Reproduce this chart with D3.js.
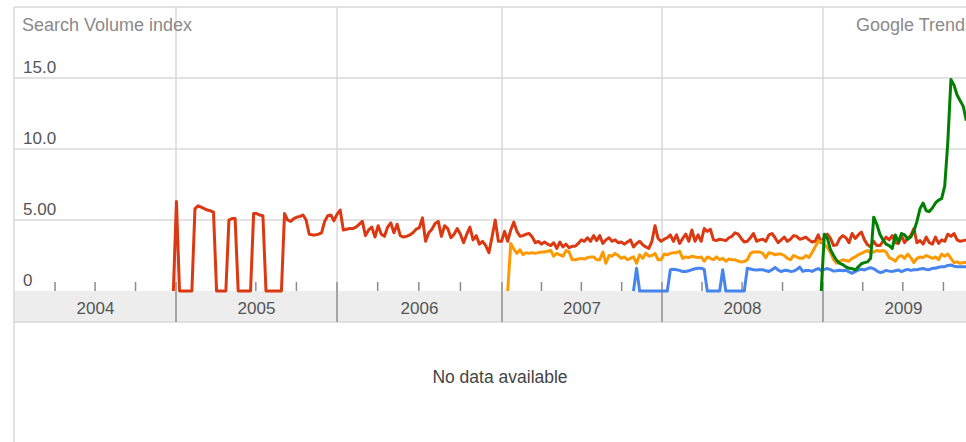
<!DOCTYPE html>
<html>
<head>
<meta charset="utf-8">
<script src="https://cdn.jsdelivr.net/npm/d3@7"></script>
<style>
  body { margin: 0; background: #fff; }
  svg { display: block; font-family: "Liberation Sans", Arial, Helvetica, sans-serif; }
</style>
</head>
<body>
<div id="chart"></div>
<script>
const width = 966, height = 442;

// year labels on the grey band
const years = ['2004', '2005', '2006', '2007', '2008', '2009', '2010'];
// y ticks, printed the way trends did it
const yTicks = [0, 5, 10, 15];
const yTickLabels = ['0', '5.00', '10.0', '15.0'];

// weekly series, first value belongs to the start date
const redStart = '2004-12-26';
const redValues = [
  // 2005
  0, 6.3, 0, 0, 0, 0, 0, 5.8, 6.0, 5.9, 5.8, 5.7, 5.65, 5.55, 0, 0, 0, 0, 5.0, 5.1, 5.1, 0, 0, 0, 0, 0,
  5.45, 5.45, 5.35, 5.3, 0, 0, 0, 0, 0, 0, 5.45, 5.0, 4.9, 5.1, 5.2, 5.25, 5.35, 5.0, 4.0, 3.95, 3.95,
  4.0, 4.1, 4.9, 5.3, 5.35, 4.95,
  // 2006
  5.4, 5.7, 4.3, 4.35, 4.4, 4.4, 4.5, 4.7, 4.9, 3.9, 4.3, 4.5, 3.8, 4.6, 4.0, 3.85, 4.5, 4.8, 4.1, 4.7,
  3.9, 3.8, 3.85, 3.95, 4.1, 4.35, 4.45, 5.15, 3.5, 4.1, 4.35, 4.75, 4.9, 3.85, 4.6, 4.4, 3.75, 4.0,
  4.4, 4.0, 3.4, 4.0, 4.5, 3.6, 3.9, 3.3, 3.5, 3.2, 2.7, 3.8, 5.0, 3.5,
  // 2007
  3.5, 4.2, 3.5, 4.3, 4.85, 4.2, 3.85, 3.9, 4.0, 4.05, 3.8, 3.4, 3.5, 3.3, 3.45, 3.3, 3.2, 3.4, 3.0,
  3.45, 3.1, 3.3, 3.05, 3.15, 3.15, 3.35, 3.6, 3.5, 3.75, 3.5, 3.9, 3.55, 3.9, 3.35, 3.6, 3.75, 3.5,
  3.6, 3.4, 3.45, 3.3, 3.45, 3.6, 3.1, 3.35, 3.5, 3.25, 3.1, 3.0, 3.5, 4.6, 3.7,
  // 2008
  3.5, 3.65, 3.75, 3.95, 3.5, 3.95, 3.35, 3.7, 4.0, 3.5, 4.3, 3.5, 3.95, 3.5, 4.4, 4.2, 4.35, 3.6,
  3.55, 3.65, 3.6, 3.55, 3.75, 3.85, 4.1, 4.0, 3.7, 3.45, 3.5, 3.75, 4.05, 3.5, 3.6, 3.65, 3.5, 3.95,
  4.05, 3.75, 3.4, 3.6, 3.8, 3.5, 3.65, 3.9, 3.85, 3.65, 3.7, 3.8, 3.6, 3.45, 3.5, 3.95,
  // 2009
  3.4, 3.8, 4.0, 3.7, 3.2, 3.25, 3.7, 3.9, 3.75, 3.4, 4.05, 3.7, 3.95, 4.15, 3.6, 3.25, 3.1, 3.5, 3.2,
  3.2, 3.5, 3.8, 3.6, 3.9, 3.4, 3.35, 3.9, 3.4, 3.7, 3.9, 4.4, 3.4, 3.55, 3.3, 3.8, 3.4, 3.3, 3.8,
  3.35, 3.6, 3.5, 4.0, 3.85, 4.05, 3.6, 3.5, 3.55, 3.6
];

const orangeStart = '2007-01-14';
const orangeValues = [
  0, 3.35, 2.95, 2.65, 2.9, 2.55, 2.7, 2.65, 2.7, 2.65, 2.7, 2.75, 2.75, 2.8, 2.85, 2.45, 2.65, 2.55,
  2.45, 2.85, 2.75, 2.2, 2.2, 2.25, 2.3, 2.25, 2.35, 2.4, 2.4, 2.2, 2.2, 2.75, 1.95, 2.5, 2.45, 2.65,
  2.5, 2.3, 2.4, 2.2, 2.3, 2.4, 1.95, 2.55, 2.3, 2.65, 2.45, 2.5, 2.65, 2.2,
  2.2, 2.6, 2.55, 2.65, 2.7, 2.7, 2.8, 2.3, 2.4, 2.35, 2.45, 2.4, 2.35, 2.4, 2.1, 2.4, 2.3, 2.2, 2.4,
  2.2, 2.3, 2.1, 2.25, 2.2, 2.2, 2.1, 2.05, 2.07, 2.2, 2.65, 2.75, 2.75, 2.75, 2.65, 2.35, 2.7, 2.65,
  2.55, 2.6, 2.6, 2.5, 2.3, 2.2, 2.5, 2.4, 2.3, 2.3, 2.5, 2.35, 2.7, 3.1, 3.5,
  3.5, 3.3, 3.05, 2.7, 2.2, 1.95, 2.1, 2.2, 2.15, 2.1, 2.3, 2.4, 2.55, 2.65, 2.75, 2.85, 2.7, 2.75,
  2.85, 2.8, 2.85, 2.75, 2.35, 2.25, 2.1, 2.4, 2.5, 2.3, 2.6, 2.35, 2.0, 2.3, 2.4, 2.35, 2.5, 2.4, 2.3,
  2.4, 2.2, 2.6, 2.45, 2.6, 2.3, 2.0, 2.05, 1.95, 2.0, 2.0
];

const blueStart = '2007-10-28';
const blueValues = [
  0, 1.6, 0, 0, 0, 0, 0, 0, 0, 0, 0, 0,
  1.5, 1.53, 1.5, 1.45, 1.37, 1.38, 1.42, 1.5, 1.57, 1.6, 1.6, 1.52, 0, 0, 0, 0, 0, 1.5, 0, 0, 0, 0, 0,
  0, 0, 1.6, 1.55, 1.5, 1.48, 1.5, 1.5, 1.42, 1.38, 1.5, 1.66, 1.48, 1.37, 1.46, 1.44, 1.38, 1.4, 1.5,
  1.68, 1.38, 1.45, 1.45, 1.38, 1.48, 1.58,
  1.45, 1.52, 1.58, 1.5, 1.4, 1.42, 1.46, 1.42, 1.46, 1.34, 1.25, 1.36, 1.48, 1.53, 1.48, 1.58, 1.64,
  1.56, 1.42, 1.3, 1.34, 1.45, 1.4, 1.38, 1.43, 1.48, 1.37, 1.46, 1.52, 1.45, 1.5, 1.5, 1.55, 1.58,
  1.52, 1.5, 1.6, 1.6, 1.67, 1.7, 1.71, 1.8, 1.83, 1.75, 1.71, 1.71, 1.71, 1.71
];

const greenStart = '2008-12-28';
const greenValues = [
  0, 4.0, 3.7, 2.9, 2.5, 2.15, 1.95, 1.85, 1.7, 1.6, 1.58, 1.48, 1.7, 1.92, 2.0, 2.05, 2.3, 5.2, 4.7,
  4.0, 3.6, 3.3, 3.2, 3.0, 3.95, 3.45, 4.05, 3.95, 3.65, 3.8, 4.2, 4.9, 5.8, 6.2, 5.65, 5.6, 5.85, 6.2,
  6.4, 6.5, 7.4, 10.5, 14.9, 14.5, 13.8, 13.4, 13.0, 12.0
];

const parseDay = d3.timeParse('%Y-%m-%d');

const series = [
  {start: redStart, values: redValues, color: '#dc3912'},
  {start: orangeStart, values: orangeValues, color: '#ff9900'},
  {start: blueStart, values: blueValues, color: '#4684ee'},
  {start: greenStart, values: greenValues, color: '#008000'}
].map(s => ({
  color: s.color,
  points: s.values.map((v, i) => ({date: d3.timeWeek.offset(parseDay(s.start), i), value: v}))
}));

const frameLeft = 14, frameTop = 7, bandTop = 291, bandBottom = 322;

// trends spaced the years a little unevenly, so one stop per january
const x = d3.scaleTime()
  .domain(years.map(yr => new Date(+yr, 0, 1)))
  .range([15, 176, 337, 502, 662, 823, 984]);

const y = d3.scaleLinear()
  .domain([0, 15])
  .range([291, 78]);

const svg = d3.select('#chart').append('svg')
  .attr('width', width)
  .attr('height', height);

// grey year band
svg.append('rect')
  .attr('x', frameLeft).attr('y', bandTop)
  .attr('width', width - frameLeft).attr('height', bandBottom - bandTop)
  .attr('fill', '#ededed');

const grid = svg.append('g')
  .attr('stroke', '#d8d8d8')
  .attr('stroke-width', 1.5);

grid.selectAll('line.h')
  .data(yTicks.filter(t => t > 0))
  .join('line')
  .attr('class', 'h')
  .attr('x1', frameLeft).attr('x2', width)
  .attr('y1', d => y(d)).attr('y2', d => y(d));

grid.selectAll('line.v')
  .data(years.slice(1, -1))
  .join('line')
  .attr('class', 'v')
  .attr('x1', d => x(new Date(+d, 0, 1))).attr('x2', d => x(new Date(+d, 0, 1)))
  .attr('y1', frameTop).attr('y2', bandTop);

// frame: top, left, under the band
grid.append('line').attr('x1', frameLeft).attr('x2', width).attr('y1', frameTop).attr('y2', frameTop);
grid.append('line').attr('x1', frameLeft).attr('x2', frameLeft).attr('y1', frameTop).attr('y2', height);
grid.append('line').attr('x1', frameLeft).attr('x2', width).attr('y1', bandBottom).attr('y2', bandBottom);

// year separators inside the band
svg.append('g')
  .attr('stroke', '#8c8c8c')
  .attr('stroke-width', 1.5)
  .selectAll('line')
  .data(years.slice(1, -1))
  .join('line')
  .attr('x1', d => x(new Date(+d, 0, 1))).attr('x2', d => x(new Date(+d, 0, 1)))
  .attr('y1', bandTop).attr('y2', bandBottom);

// quarter ticks sitting on the baseline
const quarters = [];
years.slice(0, -1).forEach(yr => [0, 3, 6, 9].forEach(m => quarters.push(new Date(+yr, m, 1))));
svg.append('g')
  .attr('stroke', '#8c8c8c')
  .attr('stroke-width', 1.5)
  .selectAll('line')
  .data(quarters.filter(q => q.getMonth() !== 0 || q.getFullYear() > 2004))
  .join('line')
  .attr('x1', d => x(d)).attr('x2', d => x(d))
  .attr('y1', bandTop - 9).attr('y2', bandTop);

// year labels, centred in each year
svg.append('g')
  .selectAll('text')
  .data(years.slice(0, -1))
  .join('text')
  .attr('x', (d, i) => (x(new Date(+d, 0, 1)) + x(new Date(+years[i + 1], 0, 1))) / 2)
  .attr('y', 314)
  .attr('text-anchor', 'middle')
  .attr('font-size', 17)
  .attr('fill', '#555')
  .text(d => d);

// y labels sit just above their gridline
svg.append('g')
  .selectAll('text')
  .data(yTicks)
  .join('text')
  .attr('x', 23)
  .attr('y', d => y(d) - 5)
  .attr('font-size', 17)
  .attr('fill', '#555')
  .text((d, i) => yTickLabels[i]);

svg.append('text')
  .attr('x', 22).attr('y', 31)
  .attr('font-size', 18)
  .attr('fill', '#8a8a8a')
  .text('Search Volume index');

// the reference is cropped through this one, so it runs off the right edge
svg.append('text')
  .attr('x', 856).attr('y', 31)
  .attr('font-size', 18)
  .attr('fill', '#8a8a8a')
  .text('Google Trends');

svg.append('text')
  .attr('x', 500).attr('y', 383)
  .attr('text-anchor', 'middle')
  .attr('font-size', 17.5)
  .attr('fill', '#444')
  .text('No data available');

const line = d3.line()
  .x(d => x(d.date))
  .y(d => y(d.value));

svg.append('g')
  .selectAll('path')
  .data(series)
  .join('path')
  .attr('d', d => line(d.points))
  .attr('fill', 'none')
  .attr('stroke', d => d.color)
  .attr('stroke-width', 3)
  .attr('stroke-linejoin', 'round');
</script>
</body>
</html>
